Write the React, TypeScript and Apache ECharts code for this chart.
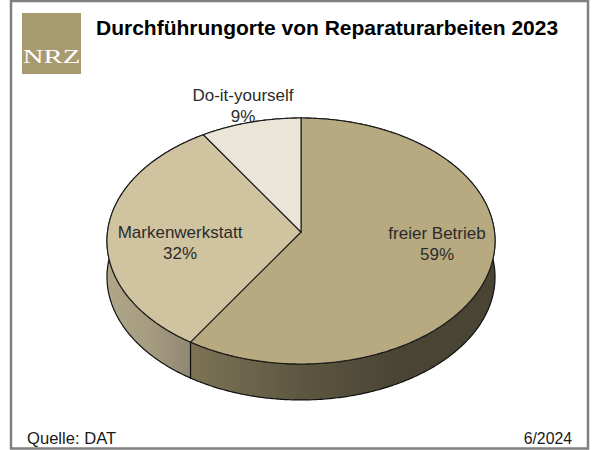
import React, { useEffect, useRef } from "react";
import * as echarts from "echarts";

const titleText = "Durchführungorte von Reparaturarbeiten 2023";
const sourceText = "Quelle: DAT";
const dateText = "6/2024";
const logoText = "NRZ";
const categories = ["freier Betrieb", "Markenwerkstatt", "Do-it-yourself"];
const shares = [59, 32, 9];
const topColors = ["#b8aa80", "#cfc3a0", "#ebe5d7"];
const labelAnchors = [
  [437, 244],
  [180, 243],
  [243, 106],
];

const CX = 301;
const APEX_Y = 232;
const A = 193.5;
const B = 122.3;
const K = 0.0732;
const DEPTH = 36;
const FONT = "'Liberation Sans', Arial, sans-serif";

const project = (deg: number, dy = 0): number[] => {
  const t = (deg * Math.PI) / 180;
  const u = Math.sin(t);
  const v = Math.cos(t);
  const w = 1 + K * v;
  return [CX + (A * u) / w, APEX_Y - (B * v) / w + dy];
};

const arc = (from: number, to: number, dy = 0): number[][] => {
  const n = Math.max(2, Math.ceil((to - from) * 2));
  const pts: number[][] = [];
  for (let i = 0; i <= n; i++) pts.push(project(from + ((to - from) * i) / n, dy));
  return pts;
};

const total = shares.reduce((a, b) => a + b, 0);
const sliceRange = (i: number): number[] => {
  let before = 0;
  for (let j = 0; j < i; j++) before += shares[j];
  return [(before / total) * 360, ((before + shares[i]) / total) * 360];
};

const wallFills: any[] = [
  {
    type: "linear", global: true, x: 190, y: 0, x2: 400, y2: 0,
    colorStops: [
      { offset: 0, color: "#7d7456" },
      { offset: 0.55, color: "#5c5540" },
      { offset: 1, color: "#4a4434" },
    ],
  },
  {
    type: "linear", global: true, x: 107, y: 0, x2: 190, y2: 0,
    colorStops: [
      { offset: 0, color: "#b0a688" },
      { offset: 0.5, color: "#a69c80" },
      { offset: 1, color: "#918874" },
    ],
  },
  "#ddd6c4",
];

export default function App() {
  const ref = useRef<HTMLDivElement>(null);
  useEffect(() => {
    document.body.style.margin = "0";
    const chart = echarts.init(ref.current!, null, { renderer: "svg" });
    const rows = shares.map((v, i) => [i, v]);
    chart.setOption({
      animation: false,
      backgroundColor: "#ffffff",
      title: {
        text: titleText,
        left: 91,
        top: 12,
        textStyle: { fontFamily: FONT, fontSize: 21, fontWeight: "bold", color: "#000000" },
      },
      graphic: [
        {
          type: "rect",
          shape: { x: 11, y: 1, width: 577, height: 447.5 },
          style: { fill: "none", stroke: "#808080", lineWidth: 2.5 },
        },
        { type: "rect", shape: { x: 22, y: 13, width: 59, height: 61 }, style: { fill: "#a99b70" } },
        {
          type: "text", x: 51.5, y: 57, scaleX: 1.6, originX: 0,
          style: {
            text: logoText, fill: "#ffffff", font: "18px 'Liberation Serif', serif",
            textAlign: "center", textVerticalAlign: "middle",
          },
        },
        {
          type: "text", x: 27, y: 438,
          style: { text: sourceText, fill: "#1a1a1a", font: `16.6px ${FONT}`, textVerticalAlign: "middle" },
        },
        {
          type: "text", x: 572, y: 438,
          style: { text: dateText, fill: "#1a1a1a", font: `15.8px ${FONT}`, textAlign: "right", textVerticalAlign: "middle" },
        },
      ],
      series: [
        {
          type: "custom",
          coordinateSystem: "none",
          z: 1,
          silent: true,
          data: rows,
          renderItem: (_p: any, api: any) => {
            const i = api.value(0);
            const [a0, a1] = sliceRange(i);
            const pts = [...arc(a0, a1), ...arc(a0, a1, DEPTH).reverse()];
            return {
              type: "polygon",
              shape: { points: pts },
              style: { fill: wallFills[i], stroke: "#111111", lineWidth: 1.2 },
            };
          },
        },
        {
          type: "custom",
          coordinateSystem: "none",
          z: 2,
          silent: true,
          data: rows,
          renderItem: (_p: any, api: any) => {
            const i = api.value(0);
            const [a0, a1] = sliceRange(i);
            const pts = [[CX, APEX_Y], ...arc(a0, a1)];
            return {
              type: "polygon",
              shape: { points: pts },
              style: { fill: topColors[i], stroke: "#1c1c1c", lineWidth: 1.1 },
            };
          },
        },
        {
          type: "custom",
          coordinateSystem: "none",
          z: 3,
          silent: true,
          data: rows,
          renderItem: (_p: any, api: any) => {
            const i = api.value(0);
            const pos = labelAnchors[i];
            return {
              type: "text",
              x: pos[0],
              y: pos[1],
              style: {
                text: `${categories[i]}\n${api.value(1)}%`,
                fill: "#2b2b2b",
                font: `17px ${FONT}`,
                lineHeight: 21,
                textAlign: "center",
                textVerticalAlign: "middle",
              },
            };
          },
        },
      ],
    });
    return () => chart.dispose();
  }, []);
  return <div ref={ref} style={{ width: 600, height: 450 }} />;
}
